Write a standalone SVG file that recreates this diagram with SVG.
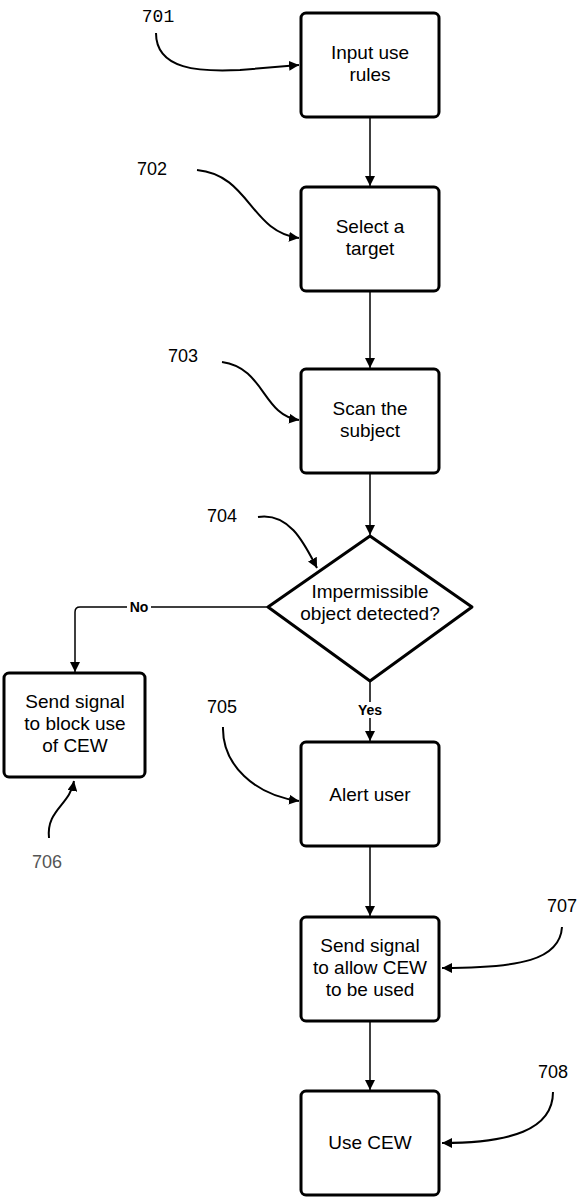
<svg xmlns="http://www.w3.org/2000/svg" width="581" height="1200" viewBox="0 0 581 1200">
<style>
.box{fill:#fff;stroke:#000;stroke-width:3}
.t{font-family:"Liberation Sans",Arial,sans-serif;font-size:19px;fill:#000;text-anchor:middle}
.lbl{font-family:"Liberation Sans",Arial,sans-serif;font-size:18px;fill:#000;text-anchor:middle}
.yn{font-family:"Liberation Sans",Arial,sans-serif;font-size:14px;font-weight:bold;fill:#000;text-anchor:middle}
.c{fill:none;stroke:#000;stroke-width:1.5}
.co{fill:none;stroke:#000;stroke-width:2}
</style>
<defs>
<marker id="ah2" viewBox="0 0 10 10" refX="10" refY="5" markerWidth="10" markerHeight="10" markerUnits="userSpaceOnUse" orient="auto"><path d="M0,0 L10,5 L0,10 z" fill="#000"/></marker>
</defs>
<g id="connectors">
<line class="c" x1="370" y1="117" x2="370" y2="186" marker-end="url(#ah2)"/>
<line class="c" x1="370" y1="291" x2="370" y2="368" marker-end="url(#ah2)"/>
<line class="c" x1="370" y1="473" x2="370" y2="535" marker-end="url(#ah2)"/>
<path class="c" d="M268,607 L80,607 Q75,607 75,612 L75,672" marker-end="url(#ah2)"/>
<rect x="127" y="599" width="24" height="16" fill="#fff"/>
<text class="yn" x="139" y="612">No</text>
<line class="c" x1="370" y1="682" x2="370" y2="741" marker-end="url(#ah2)"/>
<rect x="354" y="702" width="32" height="16" fill="#fff"/>
<text class="yn" x="370" y="715">Yes</text>
<line class="c" x1="370" y1="846" x2="370" y2="916" marker-end="url(#ah2)"/>
<line class="c" x1="370" y1="1021" x2="370" y2="1090" marker-end="url(#ah2)"/>
</g>
<g id="callouts">
<text x="158" y="22" style="font-family:'Liberation Mono',monospace;font-size:18px;text-anchor:middle">701</text>
<path class="co" d="M156,33 C156,70 200,72 240,70 L299,65" marker-end="url(#ah2)"/>
<text class="lbl" x="152" y="175">702</text>
<path class="co" d="M197,170 C250,175 250,232 299,238" marker-end="url(#ah2)"/>
<text class="lbl" x="183" y="362">703</text>
<path class="co" d="M222,362 C265,368 262,415 299,420" marker-end="url(#ah2)"/>
<text class="lbl" x="222" y="522">704</text>
<path class="co" d="M258,517 C290,512 305,545 317,568" marker-end="url(#ah2)"/>
<text class="lbl" x="222" y="713">705</text>
<path class="co" d="M223,727 C222,765 255,795 299,801" marker-end="url(#ah2)"/>
<text x="47" y="868" style="font-family:'Liberation Sans',Arial,sans-serif;font-size:18px;text-anchor:middle;fill:#555">706</text>
<path class="co" d="M49,838 C46,810 70,805 74,781" marker-end="url(#ah2)"/>
<text class="lbl" x="562" y="912">707</text>
<path class="co" d="M562,927 C560,960 520,968 442,968" marker-end="url(#ah2)"/>
<text class="lbl" x="553" y="1078">708</text>
<path class="co" d="M553,1092 C553,1130 510,1143 442,1143" marker-end="url(#ah2)"/>
</g>
<g id="n701"><rect class="box" x="301" y="13" width="138" height="104" rx="5"/><text class="t" x="370" y="59">Input use</text><text class="t" x="370" y="81">rules</text></g>
<g id="n702"><rect class="box" x="301" y="187" width="138" height="104" rx="5"/><text class="t" x="370" y="233">Select a</text><text class="t" x="370" y="255">target</text></g>
<g id="n703"><rect class="box" x="301" y="369" width="138" height="104" rx="5"/><text class="t" x="370" y="415">Scan the</text><text class="t" x="370" y="437">subject</text></g>
<g id="n704"><path d="M370,536 L472,607 L370,681 L268,607 Z" fill="#fff" stroke="#000" stroke-width="3" stroke-linejoin="round"/><text class="t" x="370" y="598">Impermissible</text><text class="t" x="370" y="620">object detected?</text></g>
<g id="n706"><rect class="box" x="4" y="673" width="141" height="104" rx="5"/><text class="t" x="75" y="708">Send signal</text><text class="t" x="75" y="730">to block use</text><text class="t" x="75" y="752">of CEW</text></g>
<g id="n705"><rect class="box" x="301" y="742" width="138" height="104" rx="5"/><text class="t" x="370" y="801">Alert user</text></g>
<g id="n707"><rect class="box" x="301" y="917" width="138" height="104" rx="5"/><text class="t" x="370" y="952">Send signal</text><text class="t" x="370" y="974">to allow CEW</text><text class="t" x="370" y="996">to be used</text></g>
<g id="n708"><rect class="box" x="301" y="1091" width="138" height="104" rx="5"/><text class="t" x="370" y="1149">Use CEW</text></g>
</svg>
